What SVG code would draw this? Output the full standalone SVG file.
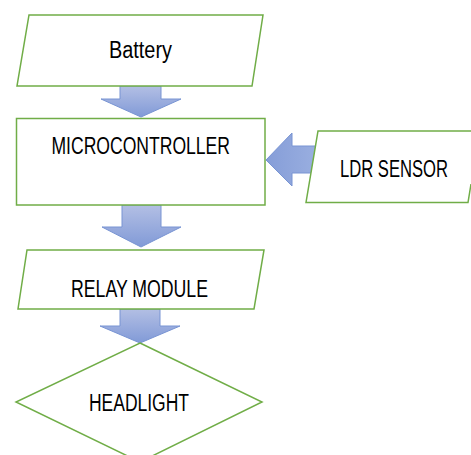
<svg xmlns="http://www.w3.org/2000/svg" width="471" height="455" viewBox="0 0 471 455">
  <defs>
    <linearGradient id="arrowFillV" x1="0" y1="0" x2="0" y2="1">
      <stop offset="0" stop-color="#b3bfe4"/>
      <stop offset="1" stop-color="#819ad7"/>
    </linearGradient>
    <linearGradient id="arrowFillH" x1="1" y1="0" x2="0" y2="0">
      <stop offset="0" stop-color="#9aafe0"/>
      <stop offset="1" stop-color="#859dd8"/>
    </linearGradient>
  </defs>
  <style>
    .box { fill: #ffffff; stroke: #70ad47; stroke-width: 1.5; }
    .edge { fill: none; stroke: #70ad47; stroke-width: 1.5; }
    .arrow { stroke: #7894d3; stroke-width: 1; }
    .label { font-family: "Liberation Sans", Arial, sans-serif; font-size: 23px; fill: #000000; }
  </style>

  <!-- block arrows between the steps -->
  <g id="connectors">
    <polygon class="arrow" fill="url(#arrowFillV)" points="120,86 161,86 161,99 181,99 141,117 101,99 120,99"/>
    <polygon class="arrow" fill="url(#arrowFillV)" points="122,205 161,205 161,227 181,227 141,247 102,227 122,227"/>
    <polygon class="arrow" fill="url(#arrowFillV)" points="120,309 160,309 160,326 180,326 140,343 100,326 120,326"/>
    <polygon class="arrow" fill="url(#arrowFillH)" points="318,146 292,146 292,133 266,160 292,186 292,173 318,173"/>
  </g>

  <g id="battery">
    <polygon class="box" points="29,15 263,15 252,86 17,86"/>
    <text class="label" x="109" y="57.7" textLength="63" lengthAdjust="spacingAndGlyphs">Battery</text>
  </g>

  <g id="microcontroller">
    <rect class="box" x="16.5" y="118.5" width="248.5" height="86.5"/>
    <text class="label" x="51.5" y="153.5" textLength="178.5" lengthAdjust="spacingAndGlyphs">MICROCONTROLLER</text>
  </g>

  <!-- parallelogram runs past the right edge of the canvas -->
  <g id="ldr-sensor">
    <polygon fill="#ffffff" points="318,131 471,131 471,184 468,202.5 306,202.5"/>
    <path class="edge" d="M471,131 H318 L306,202.5 H468 L471,184"/>
    <text class="label" x="340" y="176.5" textLength="108" lengthAdjust="spacingAndGlyphs">LDR SENSOR</text>
  </g>

  <g id="relay-module">
    <polygon class="box" points="27,250 264,250 254,309 18,309"/>
    <text class="label" x="71" y="296.5" textLength="137" lengthAdjust="spacingAndGlyphs">RELAY MODULE</text>
  </g>

  <g id="headlight">
    <polygon class="box" points="140,343 262,402 140,462 16,402"/>
    <text class="label" x="89" y="411" textLength="100" lengthAdjust="spacingAndGlyphs">HEADLIGHT</text>
  </g>
</svg>
